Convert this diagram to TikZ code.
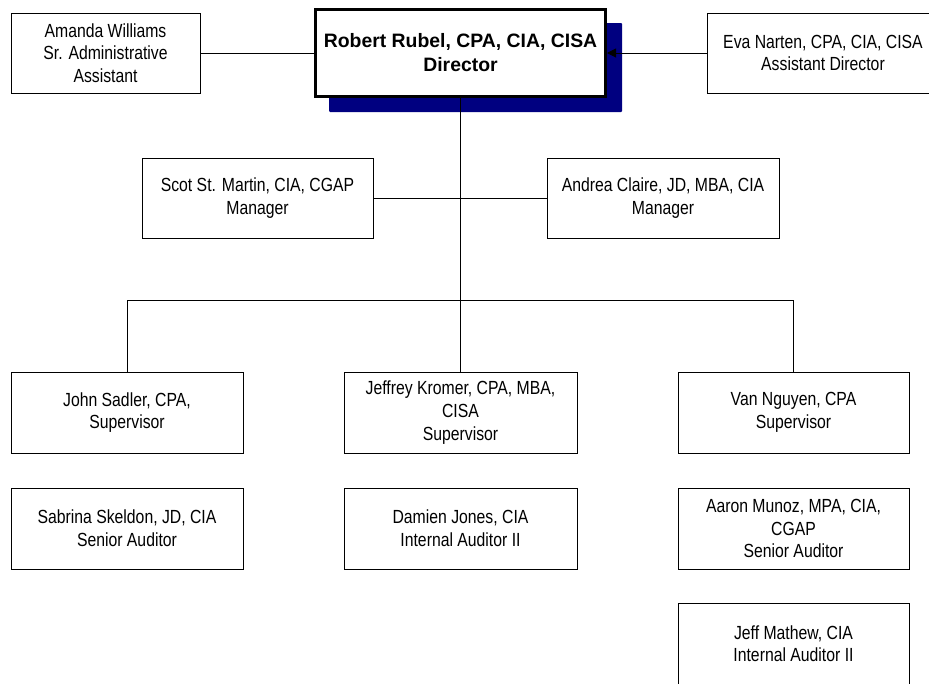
\documentclass[tikz,border=0pt]{standalone}
\usepackage{fontspec}
\setmainfont{Liberation Sans}[FakeStretch=0.83]
\newfontfamily\dirfont{Liberation Sans}
\usetikzlibrary{arrows.meta}
\definecolor{navyshadow}{RGB}{0,0,128}
\tikzset{
  box/.style={draw=black, line width=1pt, fill=white, rectangle, inner sep=0pt,
    minimum width=232pt, minimum height=81pt, align=center,
    font=\fontsize{19}{22.6}\selectfont},
  dirbox/.style={draw=black, line width=3pt, fill=white, rectangle, inner sep=0pt,
    minimum width=290pt, minimum height=87pt, align=center,
    font=\dirfont\bfseries\fontsize{19.4}{24}\selectfont},
  conn/.style={draw=black, line width=1pt},
}
\begin{document}
\begin{tikzpicture}[x=1pt, y=-1pt]
\useasboundingbox (0,0) rectangle (929,683);
\clip (0,0) rectangle (929,683);
\fill[white] (0,0) rectangle (929,683);
% shadow of director box
\fill[navyshadow, rounded corners=1pt] (329,23) rectangle (622,112);
% nodes
\node[dirbox] (director) at (460.5,53) {Robert Rubel, CPA, CIA, CISA\\Director};
\node[box, minimum width=189pt, minimum height=80pt] (amanda) at (105.5,53) {Amanda Williams\\Sr. Administrative\\Assistant};
\node[box, minimum height=80pt] (eva) at (823,53) {Eva Narten, CPA, CIA, CISA\\Assistant Director};
\node[box, minimum width=231pt, minimum height=80pt] (scot) at (257.5,198) {Scot St. Martin, CIA, CGAP\\Manager};
\node[box, minimum height=80pt] (andrea) at (663,198) {Andrea Claire, JD, MBA, CIA\\Manager};
\node[box] (john) at (127,412.5) {John Sadler, CPA,\\Supervisor};
\node[box, minimum width=233pt] (jeffrey) at (460.5,412.5) {Jeffrey Kromer, CPA, MBA,\\CISA\\Supervisor};
\node[box, minimum width=231pt] (van) at (793.5,412.5) {Van Nguyen, CPA\\Supervisor};
\node[box] (sabrina) at (127,528.5) {Sabrina Skeldon, JD, CIA\\Senior Auditor};
\node[box, minimum width=233pt] (damien) at (460.5,528.5) {Damien Jones, CIA\\Internal Auditor II};
\node[box, minimum width=231pt] (aaron) at (793.5,528.5) {Aaron Munoz, MPA, CIA,\\CGAP\\Senior Auditor};
\node[box, minimum width=231pt] (jeff) at (793.5,643.5) {Jeff Mathew, CIA\\Internal Auditor II};
% bus coordinates
\coordinate (busc) at (460.5,300);
\coordinate (busl) at (127,300);
\coordinate (busr) at (793.5,300);
% connectors
\draw[conn] (amanda.east) -- (director.west);
\draw[conn, -{Triangle[length=9pt,width=9pt]}] (eva.west) -- (director.east);
\draw[conn] (director.south) -- (busc);
\draw[conn] (scot.east) -- (andrea.west);
\draw[conn] (busl) -- (busr);
\draw[conn] (busl) -- (john.north);
\draw[conn] (busc) -- (jeffrey.north);
\draw[conn] (busr) -- (van.north);
\end{tikzpicture}
\end{document}
